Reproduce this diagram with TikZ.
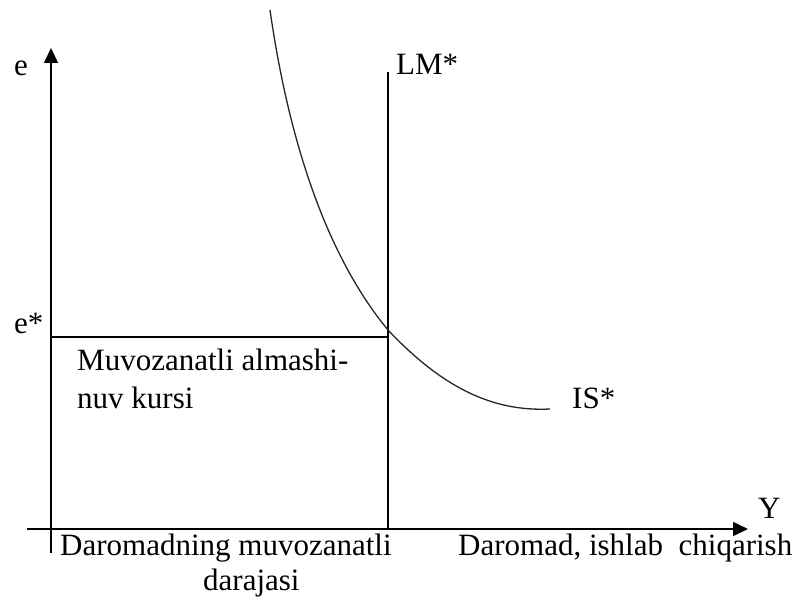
\documentclass[tikz,border=0pt]{standalone}
\usepackage{fontspec}
\setmainfont{Liberation Serif}
\usetikzlibrary{arrows.meta}
\begin{document}
\begin{tikzpicture}[x=1pt,y=-1pt,
  lbl/.style={anchor=base west,inner sep=0pt,font=\fontsize{31}{38}\selectfont},
  axis/.style={line width=1.5pt,-{Triangle[length=15pt,width=14pt]}},
  ln/.style={line width=1.5pt},
  curve/.style={line width=1.3pt,black!85}]
\useasboundingbox (0,0) rectangle (794,599);
% axis coordinates
\coordinate (ybot) at (51,553);
\coordinate (ytop) at (51,48);
\coordinate (xleft) at (27,529);
\coordinate (xright) at (748,529);
\coordinate (lmtop) at (388,72);
\coordinate (lmbot) at (388,529);
\coordinate (estar) at (51,337);
\coordinate (eq) at (388,337);
\coordinate (isA) at (270,10);
\coordinate (isB) at (388,330);
\coordinate (isC) at (550,409);
% axes
\draw[axis] (ybot) -- (ytop);
\draw[axis] (xleft) -- (xright);
% LM* and e* lines
\draw[ln] (lmbot) -- (lmtop);
\draw[ln] (estar) -- (eq);
% IS* curve
\draw[curve] (isA) .. controls (290,150) and (330,260) .. (isB)
  .. controls (440,385) and (490,412) .. (isC);
% labels
\node[lbl] (le) at (14,76) {e};
\node[lbl] (lestar) at (14,333) {e*};
\node[lbl] (llm) at (396,75) {LM*};
\node[lbl] (lis) at (572,408) {IS*};
\node[lbl] (ly) at (758,518) {Y};
\node[lbl,align=left] (lmuv) at (77,408) {Muvozanatli almashi-\\nuv kursi};
\node[lbl] (ldar1) at (60,555) {Daromadning muvozanatli};
\node[lbl] (ldar2) at (203,590) {darajasi};
\node[lbl] (ldar3) at (458,555) {Daromad, ishlab\ \ chiqarish};
\end{tikzpicture}
\end{document}
